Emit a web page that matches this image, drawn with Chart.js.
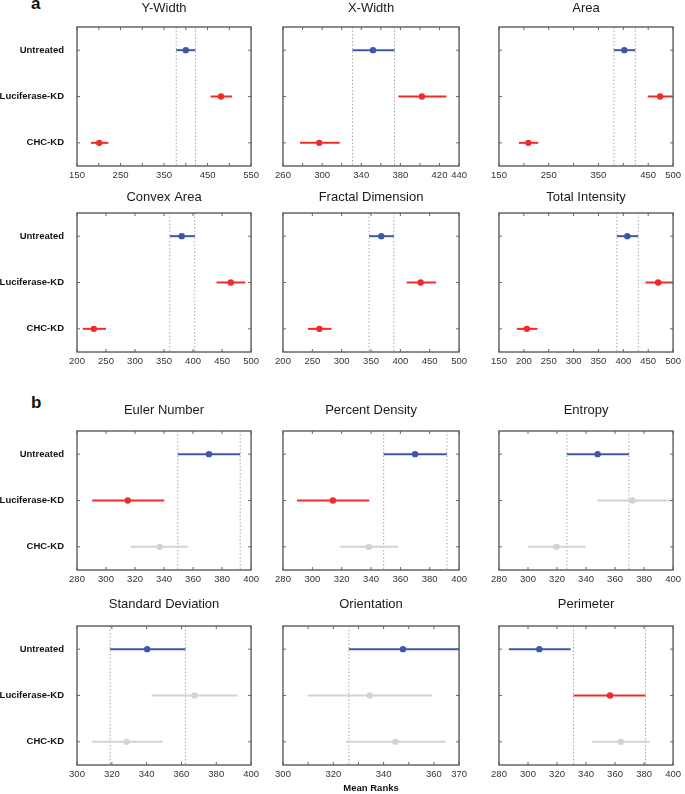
<!DOCTYPE html>
<html><head><meta charset="utf-8">
<script src="https://cdn.jsdelivr.net/npm/chart.js@4.4.1/dist/chart.umd.min.js"></script>
<style>
html,body{margin:0;padding:0;background:#fff;}
#wrap{position:relative;width:685px;height:794px;overflow:hidden;background:#fff;}
#wrap canvas{position:absolute;}
.tag{position:absolute;font:bold 17px "Liberation Sans",Arial,Helvetica,sans-serif;line-height:17px;color:#111;}
</style></head><body>
<div id="wrap">
<div class="tag" style="left:31px;top:-5px">a</div>
<div class="tag" style="left:31px;top:393.5px">b</div>
</div>
<script>
// ---------- data ----------
const groups = ['Untreated', 'Luciferase-KD', 'CHC-KD'];
const panelTitles = ['Y-Width', 'X-Width', 'Area', 'Convex Area', 'Fractal Dimension', 'Total Intensity',
                     'Euler Number', 'Percent Density', 'Entropy', 'Standard Deviation', 'Orientation', 'Perimeter'];
// mean ranks per panel: [Untreated, Luciferase-KD, CHC-KD]
const meanRanks = [
  [400, 481, 201], [352, 402, 297], [402, 474, 209],
  [380.5, 465, 229], [367.5, 434.5, 262], [408, 470, 206],
  [371, 315, 337], [370, 314, 338.5], [348, 372, 319.6],
  [340.3, 367.5, 328.5], [347.7, 334.5, 344.7], [307.8, 356.5, 364]
];
const ciLow = [
  [378, 457, 182], [331, 378, 277.5], [381, 449, 190],
  [360, 440.5, 210], [346.7, 410.7, 242.4], [387, 444.6, 186],
  [349.5, 290.5, 317], [348.6, 289.5, 318.9], [326.8, 347.9, 300],
  [319, 342.8, 308.8], [326.2, 309.8, 325], [286.8, 331.4, 344.3]
];
const ciHigh = [
  [422, 506, 222], [374, 427, 318], [424, 500, 229],
  [403, 490, 250], [389, 460.6, 282.6], [430, 500, 227.3],
  [392.5, 340.2, 356.5], [391.7, 338.8, 358.4], [369.6, 398.5, 339.6],
  [362.3, 392.5, 349], [370, 359.4, 364.6], [329.4, 381, 383.9]
];
// group whose interval is marked by the dotted lines
const refGroup = [0, 0, 0, 0, 0, 0, 0, 0, 0, 0, 0, 1];
// sel = selected group, sig = significantly different, ns = not significant
const groupStatus = [
  ['sel', 'sig', 'sig'], ['sel', 'sig', 'sig'], ['sel', 'sig', 'sig'],
  ['sel', 'sig', 'sig'], ['sel', 'sig', 'sig'], ['sel', 'sig', 'sig'],
  ['sel', 'sig', 'ns'], ['sel', 'sig', 'ns'], ['sel', 'ns', 'ns'],
  ['sel', 'ns', 'ns'], ['sel', 'ns', 'ns'], ['sel', 'sig', 'ns']
];
const xMin = [150, 260, 150, 200, 200, 150, 280, 280, 280, 300, 300, 280];
const xMax = [550, 440, 500, 500, 500, 500, 400, 400, 400, 400, 370, 400];
const xStep = [50, 20, 50, 50, 50, 50, 20, 20, 20, 20, 10, 20];
const xTickLabels = [
  [150, 250, 350, 450, 550], [260, 300, 340, 380, 420, 440], [150, 250, 350, 450, 500],
  [200, 250, 300, 350, 400, 450, 500], [200, 250, 300, 350, 400, 450, 500], [150, 200, 250, 300, 350, 400, 450, 500],
  [280, 300, 320, 340, 360, 380, 400], [280, 300, 320, 340, 360, 380, 400], [280, 300, 320, 340, 360, 380, 400],
  [300, 320, 340, 360, 380, 400], [300, 320, 340, 360, 370], [280, 300, 320, 340, 360, 380, 400]
];
const xAxisTitle = 'Mean Ranks';

// ---------- styling / layout ----------
const FONT = '"Liberation Sans", Arial, Helvetica, sans-serif';
const colors = { sel: '#3d58a8', sig: '#ee2c2c', ns: '#d3d3d3' };
const colLefts = [77, 283, 499];
const colWidths = [176, 178, 176];
const rowTops = [27, 213, 431, 626];
const BOX_H = 139;
const TOP = 30;
const RP = 10;
const titleCenters = [11.2, 14.5, 9, 8]; // relative to canvas top

const framePlugin = {
  id: 'frame',
  afterDatasetsDraw(chart) {
    const { ctx, chartArea: a, scales: { x, y } } = chart;
    ctx.save();
    ctx.strokeStyle = '#666';
    ctx.lineWidth = 1;
    ctx.beginPath();
    x.ticks.forEach(t => {
      const px = x.getPixelForValue(t.value);
      ctx.moveTo(px, a.top); ctx.lineTo(px, a.top + 3);
      ctx.moveTo(px, a.bottom); ctx.lineTo(px, a.bottom - 3);
    });
    y.ticks.forEach(t => {
      const py = y.getPixelForValue(t.value);
      ctx.moveTo(a.left, py); ctx.lineTo(a.left + 3, py);
      ctx.moveTo(a.right, py); ctx.lineTo(a.right - 3, py);
    });
    ctx.stroke();
    ctx.strokeStyle = '#5c5c5c';
    ctx.lineWidth = 1.4;
    ctx.strokeRect(a.left, a.top, a.right - a.left, a.bottom - a.top);
    ctx.restore();
  }
};

const wrap = document.getElementById('wrap');

function makePanel(p) {
  const row = Math.floor(p / 3), col = p % 3;
  const lp = col === 0 ? 77 : 12;
  const bp = p === 10 ? 29 : 20;
  const w = lp + colWidths[col] + RP;
  const h = TOP + BOX_H + bp;
  const canvas = document.createElement('canvas');
  canvas.width = w; canvas.height = h;
  canvas.style.width = w + 'px'; canvas.style.height = h + 'px';
  canvas.style.left = (colLefts[col] - lp) + 'px';
  canvas.style.top = (rowTops[row] - TOP) + 'px';
  wrap.appendChild(canvas);

  const datasets = [];
  const rg = refGroup[p];
  [ciLow[p][rg], ciHigh[p][rg]].forEach(v => {
    datasets.push({
      data: [{ x: v, y: 0 }, { x: v, y: 3 }],
      showLine: true, borderColor: '#a8a8a8', borderWidth: 1, borderDash: [1.5, 2],
      pointRadius: 0, clip: 0, order: 3
    });
  });
  groups.forEach((g, i) => {
    datasets.push({
      data: [{ x: ciLow[p][i], y: i + 0.5 }, { x: ciHigh[p][i], y: i + 0.5 }],
      showLine: true, borderColor: colors[groupStatus[p][i]], borderWidth: 2,
      pointRadius: 0, clip: 0, order: 2
    });
  });
  datasets.push({
    data: groups.map((g, i) => ({ x: meanRanks[p][i], y: i + 0.5 })),
    showLine: false,
    pointRadius: 3.2, pointBorderWidth: 0,
    pointBackgroundColor: groups.map((g, i) => colors[groupStatus[p][i]]),
    order: 1
  });

  const tp = titleCenters[row] - 6.5;
  new Chart(canvas, {
    type: 'scatter',
    data: { datasets },
    plugins: [framePlugin],
    options: {
      responsive: false, animation: false, events: [], devicePixelRatio: 1,
      layout: { padding: { left: 0, right: RP, top: 0, bottom: 0 } },
      plugins: {
        legend: { display: false }, tooltip: { enabled: false },
        title: {
          display: true, text: panelTitles[p], fullSize: false, color: '#1a1a1a',
          font: { family: FONT, size: 13, weight: 'normal', lineHeight: 1 },
          padding: { top: tp, bottom: TOP - 13 - tp }
        }
      },
      scales: {
        x: {
          type: 'linear', min: xMin[p], max: xMax[p],
          afterBuildTicks: s => {
            const t = [];
            for (let v = xMin[p]; v <= xMax[p] + 1e-9; v += xStep[p]) t.push({ value: v });
            s.ticks = t;
          },
          afterFit: s => { s.height = bp; },
          ticks: {
            stepSize: xStep[p], autoSkip: false, maxRotation: 0, minRotation: 0, padding: 4,
            color: '#333', font: { family: FONT, size: 9.5 },
            callback: v => xTickLabels[p].includes(v) ? String(v) : ''
          },
          grid: { display: false, drawTicks: false },
          border: { display: false },
          title: p === 10 ? {
            display: true, text: xAxisTitle, color: '#111',
            font: { family: FONT, size: 9.5, weight: 'bold', lineHeight: 1.2 },
            padding: { top: 0, bottom: 0.3 }
          } : { display: false }
        },
        y: {
          type: 'linear', min: 0, max: 3, reverse: true,
          afterBuildTicks: s => { s.ticks = groups.map((g, i) => ({ value: i + 0.5 })); },
          afterFit: s => { s.width = lp; },
          ticks: {
            display: col === 0, autoSkip: false, padding: 13, color: '#111',
            font: { family: FONT, size: 9.5, weight: 'bold' },
            callback: (v, i) => groups[i]
          },
          grid: { display: false, drawTicks: false },
          border: { display: false }
        }
      }
    }
  });
}

for (let p = 0; p < panelTitles.length; p++) makePanel(p);
</script>
</body></html>
